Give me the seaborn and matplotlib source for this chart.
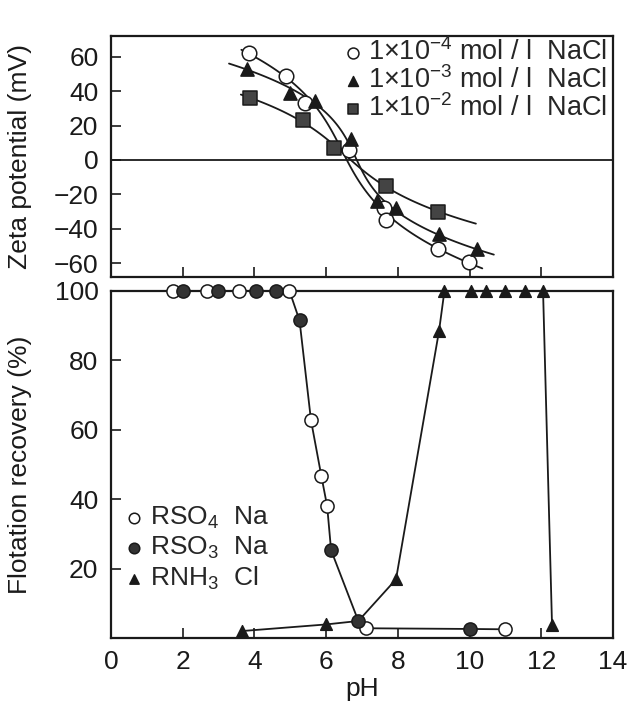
import numpy as np
import pandas as pd
import matplotlib
matplotlib.use("Agg")
import matplotlib.pyplot as plt
import seaborn as sns

# ---------------- data ----------------
# Zeta potential vs pH for three NaCl concentrations
ph_1e4 = [3.85, 4.88, 5.40, 6.65, 7.62, 7.68, 9.12, 9.98]
zeta_1e4 = [62, 49, 33, 6, -28, -35, -52, -59]
ph_1e3 = [3.80, 5.00, 5.70, 6.70, 7.43, 7.95, 9.14, 10.20]
zeta_1e3 = [53, 39, 34, 12, -24, -28, -43, -52]
ph_1e2 = [3.87, 5.35, 6.22, 7.68, 9.12]
zeta_1e2 = [36, 23, 7, -15, -30]
# zeta span covered by each smooth guide curve
curve_span_1e4 = (64, -63)
curve_span_1e3 = (56, -55)
curve_span_1e2 = (38, -37)
zeta_labels = [r"1×10$^{-4}$ mol / l  NaCl", r"1×10$^{-3}$ mol / l  NaCl",
               r"1×10$^{-2}$ mol / l  NaCl"]

# Flotation recovery vs pH
ph_rso4 = [1.74, 2.67, 3.56, 4.98, 5.58, 5.87, 6.03, 7.10, 10.99]
rec_rso4 = [100, 100, 100, 100, 62.7, 46.6, 38.0, 2.8, 2.5]
ph_rso3 = [2.02, 2.98, 4.04, 4.60, 5.26, 6.14, 6.90, 10.00]
rec_rso3 = [100, 100, 100, 100, 91.5, 25.3, 4.9, 2.6]
ph_rnh3 = [3.66, 6.00, 7.95, 9.15, 9.30, 10.05, 10.45, 11.00, 11.55, 12.05, 12.30]
rec_rnh3 = [2.0, 3.9, 16.9, 88.5, 100, 100, 100, 100, 100, 100, 3.8]
flot_labels = [r"RSO$_4$  Na", r"RSO$_3$  Na", r"RNH$_3$  Cl"]

x_ticks = [0, 2, 4, 6, 8, 10, 12, 14]
zeta_ticks = [-60, -40, -20, 0, 20, 40, 60]
rec_ticks = [20, 40, 60, 80, 100]

# ---------------- style ----------------
sns.set_theme(style="ticks")
plt.rcParams["font.family"] = ["Liberation Sans", "DejaVu Sans"]
plt.rcParams["mathtext.fontset"] = "custom"
plt.rcParams["mathtext.rm"] = "Liberation Sans"
plt.rcParams["mathtext.it"] = "Liberation Sans:italic"
plt.rcParams["mathtext.bf"] = "Liberation Sans:bold"
plt.rcParams["axes.unicode_minus"] = True

INK = "#1a1a1a"
FS = 19

fig = plt.figure(figsize=(6.3, 7.02), dpi=100)
ax1 = fig.add_axes([0.176, 0.6054, 0.797, 0.3433])
ax2 = fig.add_axes([0.176, 0.0912, 0.797, 0.4943])

for ax in (ax1, ax2):
    for s in ax.spines.values():
        s.set_linewidth(1.6)
        s.set_color(INK)
    ax.tick_params(direction="in", length=7, width=1.2, color=INK,
                   labelsize=FS, pad=9, labelcolor=INK)

# ---------------- top panel: zeta potential ----------------
ax1.axhline(0, color=INK, lw=1.3, zorder=1)
series = [
    (ph_1e4, zeta_1e4, curve_span_1e4, "o", "white", 110),
    (ph_1e3, zeta_1e3, curve_span_1e3, "^", INK, 90),
    (ph_1e2, zeta_1e2, curve_span_1e2, "s", "#444444", 100),
]
for (px, zy, span, mk, fc, sz), lab in zip(series, zeta_labels):
    # smooth guide: cubic fit of pH as a function of zeta (monotone S-curve)
    coef = np.polyfit(zy, px, 3)
    zg = np.linspace(span[0], span[1], 120)
    curve = pd.DataFrame({"pH": np.polyval(coef, zg), "zeta": zg})
    sns.lineplot(data=curve, x="pH", y="zeta", sort=False, estimator=None,
                 color=INK, lw=1.3, ax=ax1, zorder=2)
    sns.scatterplot(x=px, y=zy, marker=mk, s=sz, color=fc, edgecolor=INK,
                    linewidth=1.1, ax=ax1, zorder=3, label=lab)
ax1.set_xlim(0, 14)
ax1.set_ylim(-68, 72)
ax1.set_xticks(x_ticks)
ax1.set_xticklabels([])
ax1.set_yticks(zeta_ticks)
ax1.set_xlabel("")
ax1.set_ylabel("Zeta potential (mV)", fontsize=FS, color=INK)
ax1.yaxis.set_label_coords(-0.158, 0.5)
ax1.legend(loc="upper right", bbox_to_anchor=(1.0, 1.015), frameon=False,
           fontsize=19.5, labelspacing=0.02, handletextpad=0.2,
           handlelength=0.7, borderpad=0.1, borderaxespad=0.1,
           markerscale=0.75)

# ---------------- bottom panel: flotation recovery ----------------
# anionic collector guide curve (both sulfate and sulfonate data)
an_x = np.concatenate([ph_rso4, ph_rso3])
an_y = np.concatenate([rec_rso4, rec_rso3])
order = np.argsort(an_x)
an_df = pd.DataFrame({"pH": an_x[order], "rec": an_y[order]})
sns.lineplot(data=an_df, x="pH", y="rec", estimator=None, sort=False,
             color=INK, lw=1.3, ax=ax2, zorder=2)
# amine guide curve (joins the anionic minimum)
i_min = int(np.argmin(rec_rso3[:-1]))
am_x = np.concatenate([ph_rnh3[:2], [ph_rso3[i_min]], ph_rnh3[2:]])
am_y = np.concatenate([rec_rnh3[:2], [rec_rso3[i_min]], rec_rnh3[2:]])
am_df = pd.DataFrame({"pH": am_x, "rec": am_y})
sns.lineplot(data=am_df, x="pH", y="rec", estimator=None, sort=False,
             color=INK, lw=1.3, ax=ax2, zorder=2)

pts = [
    (ph_rso4, rec_rso4, "o", "white", 90),
    (ph_rso3, rec_rso3, "o", "#333333", 90),
    (ph_rnh3, rec_rnh3, "^", INK, 70),
]
for (px, ry, mk, fc, sz), lab in zip(pts, flot_labels):
    sns.scatterplot(x=px, y=ry, marker=mk, s=sz, color=fc, edgecolor=INK,
                    linewidth=1.1, ax=ax2, zorder=4, label=lab)
for coll in ax2.collections:
    coll.set_clip_on(False)

ax2.set_xlim(0, 14)
ax2.set_ylim(0, 100)
ax2.set_xticks(x_ticks)
ax2.set_yticks(rec_ticks)
ax2.set_xlabel("pH", fontsize=FS, color=INK, labelpad=2)
ax2.set_ylabel("Flotation recovery (%)", fontsize=FS, color=INK)
ax2.yaxis.set_label_coords(-0.158, 0.5)
ax2.legend(loc="upper left", bbox_to_anchor=(0.015, 0.40), frameon=False,
           fontsize=FS, labelspacing=0.15, handletextpad=0.2,
           handlelength=0.8, borderpad=0.1, borderaxespad=0.1,
           markerscale=0.8)

fig.savefig("out.png", dpi=100)
